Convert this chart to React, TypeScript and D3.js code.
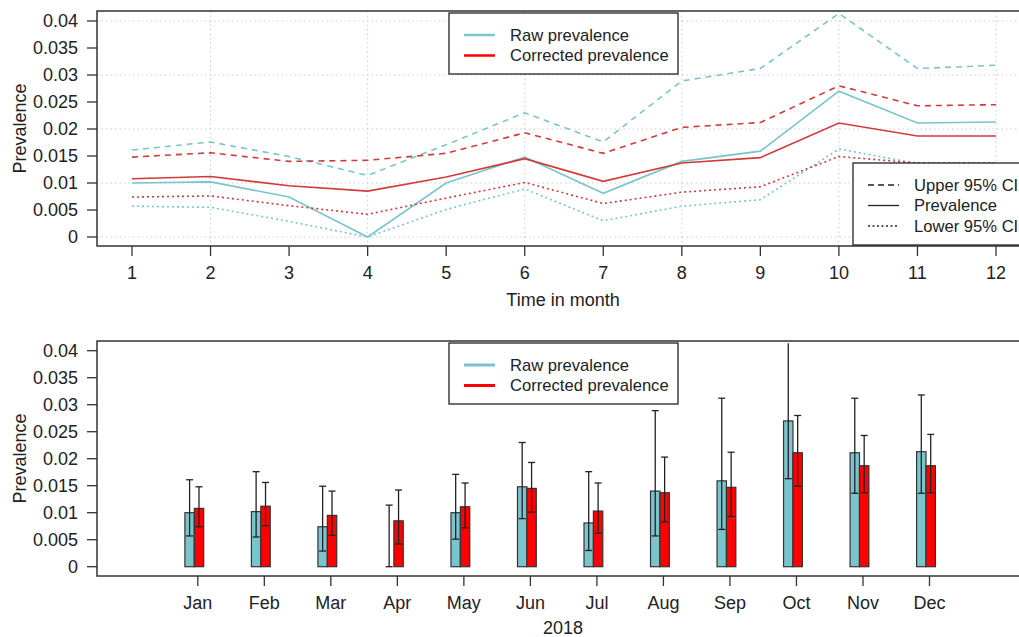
import React from 'react';
import * as d3 from 'd3';

// --- data ---
const months = [1, 2, 3, 4, 5, 6, 7, 8, 9, 10, 11, 12];
const monthNames = ['Jan', 'Feb', 'Mar', 'Apr', 'May', 'Jun', 'Jul', 'Aug', 'Sep', 'Oct', 'Nov', 'Dec'];
const rawPrev = [0.0100, 0.0102, 0.0074, 0.0, 0.0100, 0.0148, 0.0081, 0.0140, 0.0159, 0.0270, 0.0211, 0.0213];
const rawUpper = [0.0161, 0.0176, 0.0149, 0.0114, 0.0171, 0.0230, 0.0176, 0.0289, 0.0312, 0.0414, 0.0312, 0.0318];
const rawLower = [0.0057, 0.0055, 0.0029, 0.0, 0.0051, 0.0089, 0.0030, 0.0057, 0.0069, 0.0163, 0.0136, 0.0136];
const corPrev = [0.0108, 0.0112, 0.0095, 0.0085, 0.0111, 0.0145, 0.0103, 0.0137, 0.0147, 0.0211, 0.0187, 0.0187];
const corUpper = [0.0148, 0.0156, 0.0140, 0.0142, 0.0155, 0.0193, 0.0155, 0.0203, 0.0212, 0.0280, 0.0243, 0.0245];
const corLower = [0.0074, 0.0076, 0.0058, 0.0042, 0.0072, 0.0101, 0.0062, 0.0083, 0.0093, 0.0149, 0.0137, 0.0137];
const yTicks = [0, 0.005, 0.01, 0.015, 0.02, 0.025, 0.03, 0.035, 0.04];
const yGrid = [0, 0.01, 0.02, 0.03, 0.04];
const xGrid = [2, 4, 6, 8, 10, 12];

const CYAN = '#7AC5CD';
const RED_LINE = '#D23A3A';
const RED = '#FF0000';
const FONT = 'Liberation Sans, Arial, sans-serif';
const AXIS = '#333';
const FS = 18;

function fmt(v: number) {
  return v === 0 ? '0' : String(+v.toFixed(3));
}

function YAxis({ y, left }: { y: d3.ScaleLinear<number, number>; left: number }) {
  return (
    <g>
      {yTicks.map(t => (
        <g key={t}>
          <line x1={left - 10} x2={left} y1={y(t)} y2={y(t)} stroke={AXIS} strokeWidth={1.3} />
          <text x={left - 19} y={y(t)} dy="0.35em" textAnchor="end" fontSize={FS} fill="#222">{fmt(t)}</text>
        </g>
      ))}
    </g>
  );
}

function Legend({ x, y, w, h, items }: { x: number; y: number; w: number; h: number; items: { label: string; color: string; width: number; dash?: string }[] }) {
  return (
    <g>
      <rect x={x} y={y} width={w} height={h} fill="white" stroke="#222" strokeWidth={1.3} />
      {items.map((it, i) => (
        <g key={it.label}>
          <line x1={x + 15} x2={x + 46} y1={y + 22 + i * 20.5} y2={y + 22 + i * 20.5} stroke={it.color} strokeWidth={it.width} strokeDasharray={it.dash} />
          <text x={x + 61} y={y + 22 + i * 20.5} dy="0.35em" fontSize={16.6} fill="#222">{it.label}</text>
        </g>
      ))}
    </g>
  );
}

function TopChart() {
  const left = 97, top = 11, bottom = 246, right = 1031;
  const x = d3.scaleLinear().domain([1, 12]).range([132, 996]);
  const y = d3.scaleLinear().domain([0, 0.04]).range([237, 21]);
  const line = (vals: number[]) => d3.line<number>().x((_, i) => x(months[i])).y(d => y(d))(vals) || '';
  const series = [
    { vals: rawUpper, color: CYAN, dash: '6,5' },
    { vals: corUpper, color: RED_LINE, dash: '6,5' },
    { vals: rawPrev, color: CYAN, dash: undefined },
    { vals: corPrev, color: RED_LINE, dash: undefined },
    { vals: rawLower, color: CYAN, dash: '2,3' },
    { vals: corLower, color: RED_LINE, dash: '2,3' },
  ];
  return (
    <g>
      {yGrid.map(t => <line key={t} x1={left} x2={right} y1={y(t)} y2={y(t)} stroke="#ccc" strokeDasharray="1.5,3" />)}
      {xGrid.map(t => <line key={t} x1={x(t)} x2={x(t)} y1={top} y2={bottom} stroke="#ccc" strokeDasharray="1.5,3" />)}
      {series.map((s, i) => (
        <path key={i} d={line(s.vals)} fill="none" stroke={s.color} strokeWidth={1.6} strokeDasharray={s.dash} />
      ))}
      <rect x={left} y={top} width={right - left} height={bottom - top} fill="none" stroke={AXIS} strokeWidth={1.5} />
      <YAxis y={y} left={left} />
      {months.map(m => (
        <g key={m}>
          <line x1={x(m)} x2={x(m)} y1={bottom} y2={bottom + 10} stroke={AXIS} strokeWidth={1.3} />
          <text x={x(m)} y={bottom + 27} dy="0.35em" textAnchor="middle" fontSize={FS} fill="#222">{m}</text>
        </g>
      ))}
      <text x={563} y={300} dy="0.35em" textAnchor="middle" fontSize={FS} fill="#222">Time in month</text>
      <text transform={`translate(20,${(top + bottom) / 2}) rotate(-90)`} dy="0.35em" textAnchor="middle" fontSize={FS} fill="#222">Prevalence</text>
      <Legend x={449} y={13} w={229} h={61} items={[
        { label: 'Raw prevalence', color: CYAN, width: 2.5 },
        { label: 'Corrected prevalence', color: RED, width: 2.5 },
      ]} />
      <Legend x={853} y={163} w={200} h={82} items={[
        { label: 'Upper 95% CI', color: '#222', width: 1.3, dash: '6,4' },
        { label: 'Prevalence', color: '#222', width: 1.3 },
        { label: 'Lower 95% CI', color: '#222', width: 1.3, dash: '2,2.5' },
      ]} />
    </g>
  );
}

function ErrorBar({ cx, y1, y2, clipTop }: { cx: number; y1: number; y2: number; clipTop: number }) {
  const yt = Math.max(y1, clipTop);
  return (
    <g stroke="#222" strokeWidth={1.3}>
      <line x1={cx} x2={cx} y1={yt} y2={y2} />
      {y1 > clipTop + 4 && <line x1={cx - 3.5} x2={cx + 3.5} y1={y1} y2={y1} />}
      <line x1={cx - 3.5} x2={cx + 3.5} y1={y2} y2={y2} />
    </g>
  );
}

function BottomChart() {
  const left = 97, top = 341, bottom = 576, right = 1031;
  const x = d3.scaleLinear().domain([0, 11]).range([194.3, 926]);
  const y = d3.scaleLinear().domain([0, 0.04]).range([566.7, 350.7]);
  const bw = 9.4;
  return (
    <g>
      {monthNames.map((name, i) => {
        const c = x(i);
        return (
          <g key={name}>
            <rect x={c - bw} y={y(rawPrev[i])} width={bw} height={y(0) - y(rawPrev[i])} fill={CYAN} stroke="#333" strokeWidth={1.2} />
            <rect x={c} y={y(corPrev[i])} width={bw} height={y(0) - y(corPrev[i])} fill={RED} stroke="#333" strokeWidth={1.2} />
            <ErrorBar cx={c - bw / 2} y1={y(rawUpper[i])} y2={y(rawLower[i])} clipTop={top} />
            <ErrorBar cx={c + bw / 2} y1={y(corUpper[i])} y2={y(corLower[i])} clipTop={top} />
          </g>
        );
      })}
      <rect x={left} y={top} width={right - left} height={bottom - top} fill="none" stroke={AXIS} strokeWidth={1.5} />
      <YAxis y={y} left={left} />
      {monthNames.map((name, i) => (
        <g key={name}>
          <line x1={x(i) + 3.5} x2={x(i) + 3.5} y1={bottom} y2={bottom + 10} stroke={AXIS} strokeWidth={1.3} />
          <text x={x(i) + 3.5} y={bottom + 27} dy="0.35em" textAnchor="middle" fontSize={FS} fill="#222">{name}</text>
        </g>
      ))}
      <text x={563} y={628} dy="0.35em" textAnchor="middle" fontSize={FS} fill="#222">2018</text>
      <text transform={`translate(20,${(top + bottom) / 2}) rotate(-90)`} dy="0.35em" textAnchor="middle" fontSize={FS} fill="#222">Prevalence</text>
      <Legend x={449} y={343} w={229} h={61} items={[
        { label: 'Raw prevalence', color: CYAN, width: 3 },
        { label: 'Corrected prevalence', color: RED, width: 3 },
      ]} />
    </g>
  );
}

export default function App() {
  return (
    <svg width={1019} height={637} style={{ position: 'absolute', left: 0, top: 0, background: 'white' }} fontFamily={FONT}>
      <rect width={1019} height={637} fill="white" />
      <TopChart />
      <BottomChart />
    </svg>
  );
}
